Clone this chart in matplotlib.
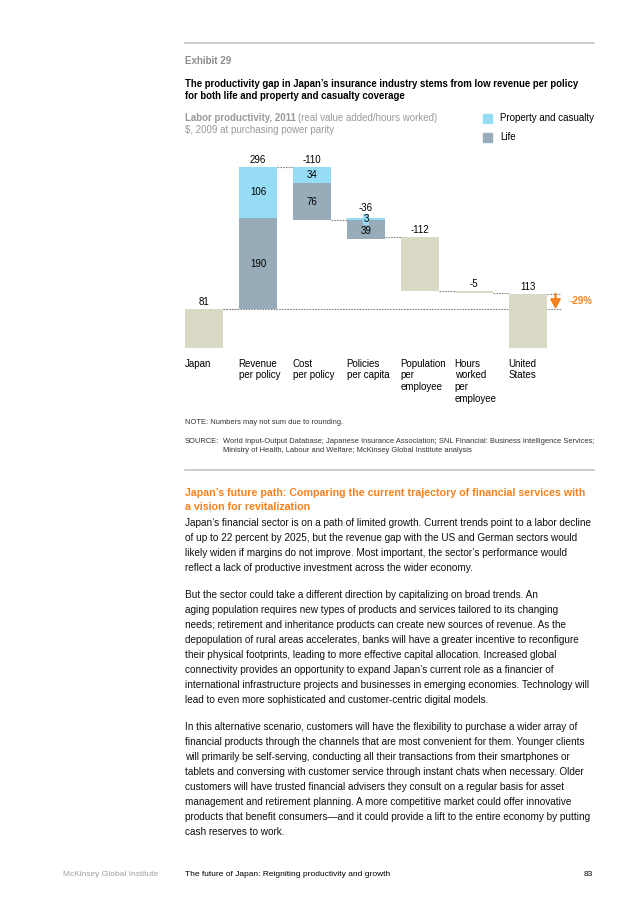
import matplotlib
matplotlib.use("Agg")
import matplotlib.pyplot as plt

plt.rcParams['font.family'] = ['Liberation Sans', 'DejaVu Sans']

# ---------------- data ----------------
categories = ["Japan", "Revenue\nper policy", "Cost\nper policy", "Policies\nper capita",
              "Population\nper\nemployee", "Hours\nworked\nper\nemployee", "United\nStates"]
japan_value = 81
us_value = 113
pc_change = [106, -34, 3]        # property & casualty: revenue, cost, policies
life_change = [190, -76, -39]    # life: revenue, cost, policies
other_change = [-112, -5]        # population per employee, hours per employee
total_labels = ["81", "296", "-110", "-36", "-112", "-5", "113"]
gap_label = "-29%"

C_PC = "#97DCF5"
C_LIFE = "#97ABB8"
C_TAN = "#DAD9C6"
C_ORANGE = "#F5821F"
C_DOT = "#8A8A8A"

W, H = 636, 900
fig = plt.figure(figsize=(W / 100, H / 100), dpi=100)


def fx(x):
    return x / W


def fy(y):
    return 1 - y / H


def ftext(x, y, s, **kw):
    kw.setdefault("va", "center")
    kw.setdefault("ha", "left")
    fig.text(fx(x), fy(y), s, **kw)


# ---------------- header ----------------
fig.add_artist(plt.Line2D([fx(185), fx(594)], [fy(43), fy(43)], color="#C8C8C8", lw=1.3))
ftext(185, 61, "Exhibit 29", fontsize=7, fontweight="bold", color="#8C8C8C")
ftext(185, 84, "The productivity gap in Japan’s insurance industry stems from low revenue per policy",
      fontsize=6.9, fontweight="bold", color="black")
ftext(185, 96, "for both life and property and casualty coverage",
      fontsize=6.9, fontweight="bold", color="black")
t = fig.text(fx(185), fy(118.5), "Labor productivity, 2011", fontsize=7, fontweight="bold",
             color="#9A9A9A", va="center")
fig.canvas.draw()
bb = t.get_window_extent()
fig.text(bb.x1 / W + fx(2.5), fy(118.5), "(real value added/hours worked)", fontsize=7,
         color="#9A9A9A", va="center")
ftext(185, 129.5, "$, 2009 at purchasing power parity", fontsize=7, color="#9A9A9A")

# legend
for yc, col, lab in [(118.5, C_PC, "Property and casualty"), (137.5, C_LIFE, "Life")]:
    fig.add_artist(plt.Rectangle((fx(482.5), fy(yc + 4.7)), 9.4 / W, 9.4 / H,
                                 color=col, transform=fig.transFigure))
    ftext(500, yc, lab, fontsize=7, color="black")

# ---------------- chart ----------------
ax = fig.add_axes([fx(170), fy(348), 430 / W, (348 - 150) / H])
ax.set_xlim(-0.63, 7.333)
ax.set_ylim(0, 412.5)
ax.axis("off")
bw = 0.72

levels = [japan_value]
bars = [(0, 0, japan_value, C_TAN)]
inner_labels = []
for i, (pc, lf) in enumerate(zip(pc_change, life_change)):
    x = i + 1
    start = levels[-1]
    up = start
    down = start
    comps = []
    # positives stacked upwards (life then P&C); negatives downwards (P&C then life)
    for val, col in [(lf, C_LIFE), (pc, C_PC)]:
        if val > 0:
            comps.append((x, up, val, col, val))
            up += val
    for val, col in [(pc, C_PC), (lf, C_LIFE)]:
        if val < 0:
            comps.append((x, down + val, -val, col, val))
            down += val
    for c in comps:
        bars.append(c[:4])
        inner_labels.append(c)
    levels.append(start + pc + lf)
for j, val in enumerate(other_change):
    x = 4 + j
    start = levels[-1]
    bars.append((x, start + val, -val, C_TAN))
    levels.append(start + val)
bars.append((6, 0, us_value, C_TAN))

# dotted connectors
dot = dict(color=C_DOT, lw=0.8, ls=(0, (1.5, 1)), zorder=1)
for i in range(6):
    ax.plot([i + bw / 2, i + 1 - bw / 2], [levels[i], levels[i]], **dot)
ax.plot([0 + bw / 2, 6 + bw / 2 + 0.26], [japan_value, japan_value], **dot)
ax.plot([6 + bw / 2, 6 + bw / 2 + 0.26], [us_value, us_value], **dot)

for x, b, h, col in bars:
    ax.bar(x, h, bottom=b, width=bw, color=col, edgecolor="none", zorder=2)

# inner labels
for x, b, h, col, val in inner_labels:
    s = str(abs(val))
    if h < 10:
        ax.text(x, b + 1, s, ha="center", va="center", fontsize=7, zorder=4,
                bbox=dict(boxstyle="square,pad=0.08", fc=C_PC, ec="none"))
    elif col == C_LIFE and x == 3:
        ax.text(x, b + h - 23, s, ha="center", va="center", fontsize=7, zorder=3)
    else:
        ax.text(x, b + h / 2, s, ha="center", va="center", fontsize=7, zorder=3)

# total labels above bars
tops = [japan_value, levels[1], levels[1], levels[2] + max(pc_change[2], 0) + 8,
        levels[3], levels[4], us_value]
for i, lab in enumerate(tops):
    ax.text(i, lab + 14, total_labels[i], ha="center", va="center", fontsize=7, zorder=3)

# category labels
for i, c in enumerate(categories):
    ax.text(i - bw / 2, -22, c, ha="left", va="top", fontsize=7, linespacing=1.22,
            clip_on=False)

# gap arrow
ax_x = 6 + bw / 2 + 0.15
ax.annotate("", xy=(ax_x, japan_value), xytext=(ax_x, us_value),
            arrowprops=dict(arrowstyle="-|>,head_width=0.3,head_length=0.55", color=C_ORANGE,
                            lw=1.6, shrinkA=0, shrinkB=0), zorder=5)
ax.text(ax_x + 0.26, (japan_value + us_value) / 2, gap_label, ha="left", va="center",
        fontsize=7, color=C_ORANGE, fontweight="bold")

# ---------------- notes ----------------
ftext(185, 422, "NOTE: Numbers may not sum due to rounding.", fontsize=5.4, color="#333333")
ftext(185, 442, "SOURCE:", fontsize=5.4, color="#333333")
ftext(223, 442, "World Input-Output Database; Japanese Insurance Association; SNL Financial: Business Intelligence Services;",
      fontsize=5.4, color="#333333")
ftext(223, 451, "Ministry of Health, Labour and Welfare; McKinsey Global Institute analysis",
      fontsize=5.4, color="#333333")
fig.add_artist(plt.Line2D([fx(185), fx(594)], [fy(470), fy(470)], color="#C8C8C8", lw=1.3))

# ---------------- body text ----------------
ftext(185, 492.7, "Japan’s future path: Comparing the current trajectory of financial services with",
      fontsize=7.7, fontweight="bold", color=C_ORANGE)
ftext(185, 506.7, "a vision for revitalization", fontsize=7.7, fontweight="bold", color=C_ORANGE)

para1 = [
    "Japan’s financial sector is on a path of limited growth. Current trends point to a labor decline",
    "of up to 22 percent by 2025, but the revenue gap with the US and German sectors would",
    "likely widen if margins do not improve. Most important, the sector’s performance would",
    "reflect a lack of productive investment across the wider economy.",
]
para2 = [
    "But the sector could take a different direction by capitalizing on broad trends. An",
    "aging population requires new types of products and services tailored to its changing",
    "needs; retirement and inheritance products can create new sources of revenue. As the",
    "depopulation of rural areas accelerates, banks will have a greater incentive to reconfigure",
    "their physical footprints, leading to more effective capital allocation. Increased global",
    "connectivity provides an opportunity to expand Japan’s current role as a financier of",
    "international infrastructure projects and businesses in emerging economies. Technology will",
    "lead to even more sophisticated and customer-centric digital models.",
]
para3 = [
    "In this alternative scenario, customers will have the flexibility to purchase a wider array of",
    "financial products through the channels that are most convenient for them. Younger clients",
    "will primarily be self-serving, conducting all their transactions from their smartphones or",
    "tablets and conversing with customer service through instant chats when necessary. Older",
    "customers will have trusted financial advisers they consult on a regular basis for asset",
    "management and retirement planning. A more competitive market could offer innovative",
    "products that benefit consumers—and it could provide a lift to the entire economy by putting",
    "cash reserves to work.",
]
for start, para in [(522.7, para1), (595.0, para2), (727.0, para3)]:
    for k, line in enumerate(para):
        ftext(185, start + 15 * k, line, fontsize=7.2, color="#111111")

# ---------------- footer ----------------
ftext(63, 874, "McKinsey Global Institute", fontsize=6, color="#A0A0A0")
ftext(185, 874, "The future of Japan: Reigniting productivity and growth", fontsize=6, color="black")
ftext(593, 874, "83", fontsize=6, color="black", ha="right")

fig.savefig("out.png", dpi=100)
